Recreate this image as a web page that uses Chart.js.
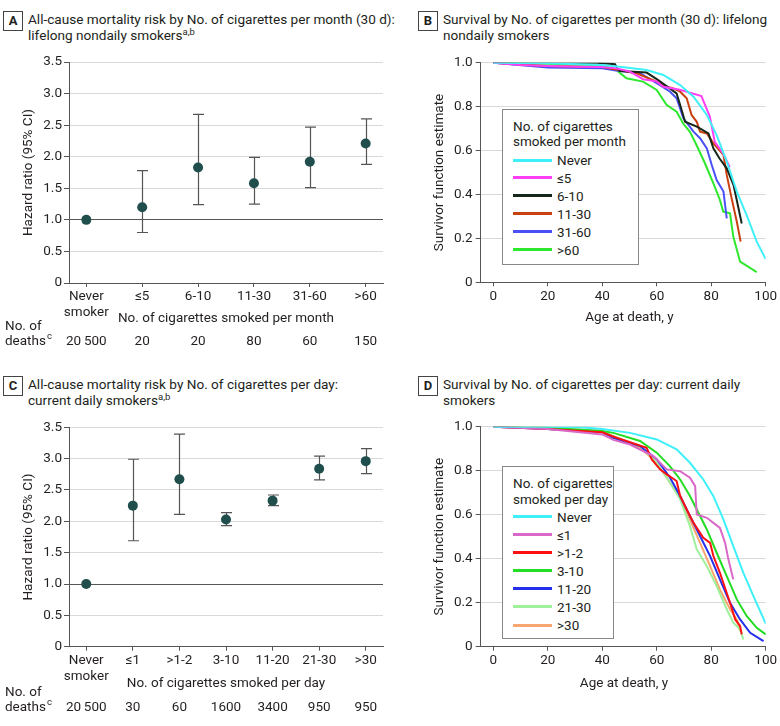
<!DOCTYPE html>
<html><head><meta charset="utf-8">
<script src="https://cdn.jsdelivr.net/npm/chart.js@4.4.1/dist/chart.umd.min.js"></script>
<style>
body{margin:0;background:#fff;}
#page{position:relative;width:780px;height:726px;overflow:hidden;font-family:Roboto,"Noto Sans",sans-serif;color:#231f20}
.wrap{position:absolute}
.wrap canvas{display:block}
.plab{position:absolute;border:1px solid #444;font-weight:bold;font-size:13px;width:18px;height:18px;line-height:18px;text-align:center;box-sizing:content-box}
.ttl{position:absolute;font-size:13.6px;line-height:15.5px;white-space:nowrap}
.ttl sup{font-size:9.5px;line-height:0;vertical-align:5px}
.leg{position:absolute;border:1px solid #888;background:#fff;font-size:13.5px}
.leg div{position:absolute;white-space:nowrap;line-height:16px}
.leg .sw{position:absolute;height:3px}
</style></head>
<body><div id="page">
<div class="plab" style="left:3px;top:11px">A</div>
<div class="ttl" style="left:28px;top:12px">All-cause mortality risk by No. of cigarettes per month (30 d):<br>lifelong nondaily smokers<sup>a,b</sup></div>
<div class="plab" style="left:418px;top:11px">B</div>
<div class="ttl" style="left:443px;top:12px">Survival by No. of cigarettes per month (30 d): lifelong<br>nondaily smokers</div>
<div class="plab" style="left:3px;top:376px">C</div>
<div class="ttl" style="left:28px;top:377px">All-cause mortality risk by No. of cigarettes per day:<br>current daily smokers<sup>a,b</sup></div>
<div class="plab" style="left:418px;top:376px">D</div>
<div class="ttl" style="left:443px;top:377px">Survival by No. of cigarettes per day: current daily<br>smokers</div>

<div class="wrap" style="left:0;top:0"><canvas id="cA" width="390" height="363"></canvas></div>
<div class="wrap" style="left:390px;top:0"><canvas id="cB" width="390" height="363"></canvas></div>
<div class="wrap" style="left:0;top:365px"><canvas id="cC" width="390" height="361"></canvas></div>
<div class="wrap" style="left:390px;top:365px"><canvas id="cD" width="390" height="361"></canvas></div>
<div class="leg" id="legB" style="left:502px;top:109px;width:135px;height:154px"></div>
<div class="leg" id="legD" style="left:502px;top:466px;width:110px;height:171px"></div>
</div>
<script>
// ---------- data ----------
const monthCats = ['Never smoker','≤5','6-10','11-30','31-60','>60'];
const monthHR = [1.00, 1.20, 1.83, 1.58, 1.92, 2.21];
const monthLo = [null, 0.80, 1.24, 1.25, 1.51, 1.88];
const monthHi = [null, 1.78, 2.67, 1.99, 2.47, 2.60];
const monthDeaths = ['20\u2009500','20','20','80','60','150'];

const dayCats = ['Never smoker','≤1','>1-2','3-10','11-20','21-30','>30'];
const dayHR = [1.00, 2.25, 2.67, 2.03, 2.33, 2.84, 2.96];
const dayLo = [null, 1.69, 2.11, 1.93, 2.25, 2.66, 2.76];
const dayHi = [null, 2.99, 3.39, 2.14, 2.42, 3.04, 3.16];
const dayDeaths = ['20\u2009500','30','60','1600','3400','950','950'];

const hrTicks = [0, 0.5, 1, 1.5, 2, 2.5, 3, 3.5];
const survTicks = [0, 0.2, 0.4, 0.6, 0.8, 1.0];
const ageTicks = [0, 20, 40, 60, 80, 100];

// Panel B: survival by cigarettes per month
const monthSeries = ['Never','≤5','6-10','11-30','31-60','>60'];
const monthColors = ['#3ff0f8','#ff3ff5','#15261a','#c8420f','#4a50f5','#2ee82e'];
const monthAges = [
  [0,20,40,46.5,56.3,62.4,68.6,73.5,78.4,82,85.7,89.4,93,96.7,100],
  [0,10,20,30,40,45,50,55,60,62.4,68.5,76.4,79.5,81.3,84.4,86.8],
  [0,20,38,44.7,45.5,46.5,56.3,60,64,67.3,68.6,70.4,74.7,79,80.8,83,85.7,88.2,91.2],
  [0,20,40,46.5,52.6,60,63.7,66.1,68.6,71,72.8,74.7,75.9,78.4,80.8,84.5,85.7,87.5,89.4,90.8],
  [0,20,40,45,53.9,61.2,64.9,67.3,69.8,73.5,75.9,78.4,80.2,82,84.5,85.1,85.7],
  [0,20,40,45.3,48.9,55,60,63.6,67.3,69.7,72.2,74.6,77.7,80.8,83.2,84.4,86.9,88.1,90.6,96.7]
];
const monthSurv = [
  [1,0.998,0.99,0.982,0.967,0.944,0.898,0.845,0.762,0.67,0.55,0.413,0.306,0.185,0.106],
  [1,0.99,0.985,0.982,0.98,0.975,0.96,0.925,0.915,0.89,0.877,0.848,0.755,0.64,0.587,0.524],
  [1,1,1,0.993,0.975,0.962,0.955,0.925,0.89,0.86,0.807,0.731,0.709,0.678,0.61,0.565,0.519,0.443,0.268],
  [1,0.985,0.98,0.965,0.952,0.914,0.891,0.883,0.868,0.838,0.762,0.731,0.686,0.678,0.633,0.58,0.489,0.382,0.276,0.185],
  [1,0.978,0.975,0.965,0.952,0.898,0.868,0.838,0.747,0.686,0.656,0.61,0.534,0.466,0.413,0.352,0.291],
  [1,0.995,0.99,0.966,0.929,0.914,0.876,0.808,0.777,0.723,0.685,0.625,0.542,0.451,0.375,0.322,0.314,0.208,0.094,0.046]
];

// Panel D: survival by cigarettes per day
const daySeries = ['Never','≤1','>1-2','3-10','11-20','21-30','>30'];
const dayColors = ['#3ff0f8','#d968c8','#ff1010','#22dd22','#2430ee','#9ef09a','#f7a670'];
const dayAges = [
  [0,20,32,40,50.2,60,67.3,72.2,77.1,80.8,84.5,88.1,91.8,95.5,100],
  [0,20,40,44.1,50.2,58.8,63.7,68.6,72.2,74.1,74.7,78.4,80.8,83.2,85.1,86.3,88.1],
  [0,20,40,45.3,56.3,58.2,61.2,63.7,67.3,68.6,71,73.5,77.1,79.6,80.8,83.2,86.9,88.8,90.6,91.2],
  [0,20,40,44.1,53.9,60,64.9,68.6,72.2,75.3,78.4,82,85.7,89.4,93,96.7,100],
  [0,20,40,44.1,53.9,60,64.9,68.6,72.2,75.9,79.6,83.2,86.9,90.6,94.3,99.2],
  [0,20,40,44.1,53.9,60,64.9,68.6,72.2,74.7,78.4,82,85.7,88.1,90.6,91.8],
  [0,20,40,44.1,53.9,60,64.9,68.6,72.2,75.9,79.6,83.2,86.9,89.4,90.6]
];
const daySurv = [
  [1,1,0.998,0.99,0.972,0.942,0.897,0.836,0.76,0.684,0.578,0.457,0.336,0.23,0.105],
  [1,0.99,0.965,0.94,0.919,0.866,0.806,0.798,0.768,0.73,0.601,0.586,0.563,0.54,0.472,0.397,0.306],
  [1,0.99,0.975,0.95,0.904,0.851,0.806,0.783,0.753,0.685,0.624,0.563,0.495,0.472,0.412,0.336,0.2,0.124,0.094,0.056],
  [1,0.995,0.98,0.972,0.935,0.882,0.82,0.76,0.685,0.609,0.533,0.427,0.321,0.215,0.14,0.086,0.056],
  [1,0.99,0.975,0.95,0.912,0.852,0.768,0.685,0.594,0.503,0.412,0.306,0.2,0.124,0.063,0.025],
  [1,0.995,0.98,0.957,0.912,0.836,0.745,0.67,0.548,0.442,0.366,0.276,0.17,0.109,0.079,0.033],
  [1,0.995,0.98,0.95,0.904,0.836,0.745,0.677,0.578,0.472,0.366,0.26,0.17,0.124,0.071]
];

// ---------- rendering ----------
const FONT = 'Roboto, "Noto Sans", sans-serif';
const FS = 13.5;
const TXT = '#231f20';
const AXIS = '#555';
const GRID = '#d9d9d9';

const errBars = {
  id: 'errBars',
  beforeDatasetsDraw(chart, args, o) {
    const {ctx, scales: {x, y}} = chart;
    ctx.save();
    ctx.strokeStyle = '#555'; ctx.lineWidth = 1.2;
    o.lo.forEach((lo, i) => {
      const hi = o.hi[i];
      if (lo == null) return;
      const px = Math.round(x.getPixelForValue(i)) + 0.5;
      const p1 = y.getPixelForValue(lo), p2 = y.getPixelForValue(hi);
      ctx.beginPath();
      ctx.moveTo(px, p1); ctx.lineTo(px, p2);
      ctx.moveTo(px - 5.5, p1); ctx.lineTo(px + 5.5, p1);
      ctx.moveTo(px - 5.5, p2); ctx.lineTo(px + 5.5, p2);
      ctx.stroke();
    });
    ctx.restore();
  }
};

const extraText = {
  id: 'extraText',
  afterDraw(chart, args, o) {
    const {ctx, chartArea: ca, scales: {x}} = chart;
    ctx.save();
    ctx.fillStyle = TXT;
    ctx.font = FS + 'px ' + FONT;
    ctx.save();
    ctx.translate(o.yTitleX, (ca.top + ca.bottom) / 2);
    ctx.rotate(-Math.PI / 2);
    ctx.textAlign = 'center'; ctx.textBaseline = 'middle';
    ctx.fillText(o.yTitle, 0, 0);
    ctx.restore();
    ctx.textAlign = 'center'; ctx.textBaseline = 'middle';
    const xc = o.xTitleAt != null ? x.getPixelForValue(o.xTitleAt) : (ca.left + ca.right) / 2;
    ctx.fillText(o.xTitle, xc, o.xTitleY);
    if (o.deaths) {
      ctx.textAlign = 'left';
      ctx.fillText('No. of', 5, o.noOfY);
      ctx.fillText('deaths', 5, o.deathsY);
      const w = ctx.measureText('deaths').width;
      ctx.font = '9.5px ' + FONT;
      ctx.fillText('c', 5 + w + 1, o.deathsY - 5);
      ctx.font = FS + 'px ' + FONT;
      ctx.textAlign = 'center';
      o.deaths.forEach((d, i) => ctx.fillText(d, x.getPixelForValue(i), o.deathsY));
    }
    ctx.restore();
  }
};

function hrChart(id, cats, hr, lo, hi, deaths, L) {
  new Chart(document.getElementById(id), {
    type: 'scatter',
    data: { datasets: [{
      data: hr.map((v, i) => ({x: i, y: v})),
      pointRadius: 5, pointHoverRadius: 5,
      backgroundColor: '#1f4e4d', borderColor: '#1f4e4d', borderWidth: 0
    }]},
    plugins: [errBars, extraText],
    options: {
      responsive: false, animation: false, events: [],
      layout: {padding: {left: 0, top: L.top, right: L.right, bottom: 0}},
      plugins: {
        legend: {display: false}, tooltip: {enabled: false},
        errBars: {lo: lo, hi: hi},
        extraText: {yTitle: 'Hazard ratio (95% CI)', yTitleX: 29, xTitle: L.xTitle, xTitleY: L.xTitleY,
                    deaths: deaths, noOfY: L.noOfY, deathsY: L.deathsY}
      },
      scales: {
        x: {
          type: 'linear', min: L.xmin, max: cats.length - 1 - L.xmin,
          afterBuildTicks: s => { s.ticks = cats.map((c, i) => ({value: i})); },
          afterFit: s => { s.height = L.xh; },
          grid: {drawOnChartArea: false, drawTicks: true, tickLength: 4, tickColor: AXIS},
          border: {color: AXIS, width: 1},
          ticks: {color: TXT, padding: 2, maxRotation: 0, autoSkip: false,
                  font: {family: FONT, size: FS, lineHeight: 1.18},
                  callback: (v, i) => cats[i] === 'Never smoker' ? ['Never', 'smoker'] : cats[i]}
        },
        y: {
          min: 0, max: 3.5,
          afterBuildTicks: s => { s.ticks = hrTicks.map(v => ({value: v})); },
          afterFit: s => { s.width = 69; },
          grid: {color: c => (c.tick && c.tick.value === 1) ? '#555' : GRID, lineWidth: 1, tickLength: 5, tickColor: AXIS},
          border: {color: AXIS, width: 1},
          ticks: {color: TXT, padding: 2, font: {family: FONT, size: FS},
                  callback: v => v === 0 ? '0' : v.toFixed(1)}
        }
      }
    }
  });
}

function survChart(id, names, colors, ages, surv, L) {
  new Chart(document.getElementById(id), {
    type: 'scatter',
    data: { datasets: names.map((n, i) => ({
      label: n,
      data: ages[i].map((a, j) => ({x: a, y: surv[i][j]})),
      showLine: true, borderColor: colors[i], backgroundColor: colors[i],
      borderWidth: 2, pointRadius: 0, tension: 0
    }))},
    plugins: [extraText],
    options: {
      responsive: false, animation: false, events: [],
      layout: {padding: {left: 0, top: L.top, right: L.right, bottom: 0}},
      plugins: {
        legend: {display: false}, tooltip: {enabled: false},
        extraText: {yTitle: 'Survivor function estimate', yTitleX: 49.5, xTitle: 'Age at death, y',
                    xTitleY: L.xTitleY, xTitleAt: L.xTitleAt}
      },
      scales: {
        x: {
          type: 'linear', min: -4.6, max: 100,
          afterBuildTicks: s => { s.ticks = ageTicks.map(v => ({value: v})); },
          afterFit: s => { s.height = L.xh; },
          grid: {drawOnChartArea: false, drawTicks: true, tickLength: 4, tickColor: AXIS},
          border: {color: AXIS, width: 1},
          ticks: {color: TXT, padding: 2, maxRotation: 0, autoSkip: false, font: {family: FONT, size: FS}}
        },
        y: {
          min: 0, max: 1,
          afterBuildTicks: s => { s.ticks = survTicks.map(v => ({value: v})); },
          afterFit: s => { s.width = 90.7; },
          grid: {color: GRID, lineWidth: 1, tickLength: 5, tickColor: AXIS},
          border: {color: AXIS, width: 1},
          ticks: {color: TXT, padding: 3, font: {family: FONT, size: FS},
                  callback: v => v === 0 ? '0' : v.toFixed(1)}
        }
      }
    }
  });
}

function buildLegend(elId, title, names, colors, L) {
  const el = document.getElementById(elId);
  title.forEach((t, k) => {
    const d = document.createElement('div');
    d.textContent = t; d.style.left = '10px'; d.style.top = (L.t0 + k * L.tstep - 8) + 'px';
    el.appendChild(d);
  });
  names.forEach((n, i) => {
    const cy = L.e0 + i * L.estep;
    const sw = document.createElement('div');
    sw.className = 'sw'; sw.style.left = '10px'; sw.style.width = '39px';
    sw.style.top = (cy - 1.5) + 'px'; sw.style.background = colors[i];
    el.appendChild(sw);
    const d = document.createElement('div');
    d.textContent = n; d.style.left = '54px'; d.style.top = (cy - 8) + 'px';
    el.appendChild(d);
  });
}

hrChart('cA', monthCats, monthHR, monthLo, monthHi, monthDeaths,
  {top: 62, right: 7, xh: 80, xmin: -0.31, xTitle: 'No. of cigarettes smoked per month', xTitleY: 319, noOfY: 327, deathsY: 342});
hrChart('cC', dayCats, dayHR, dayLo, dayHi, dayDeaths,
  {top: 62.3, right: 7, xh: 79.3, xmin: -0.37, xTitle: 'No. of cigarettes smoked per day', xTitleY: 318.7, noOfY: 327.3, deathsY: 342.3});
survChart('cB', monthSeries, monthColors, monthAges, monthSurv,
  {top: 62.7, right: 14.3, xh: 80.7, xTitleY: 318, xTitleAt: 50});
survChart('cD', daySeries, dayColors, dayAges, daySurv,
  {top: 61.7, right: 14.3, xh: 79.3, xTitleY: 318.3, xTitleAt: 48});
buildLegend('legB', ['No. of cigarettes', 'smoked per month'], monthSeries, monthColors,
  {t0: 16.4, tstep: 15, e0: 50, estep: 17.9});
buildLegend('legD', ['No. of cigarettes', 'smoked per day'], daySeries, dayColors,
  {t0: 15.7, tstep: 16.6, e0: 49.7, estep: 18.05});
</script>
</body></html>
